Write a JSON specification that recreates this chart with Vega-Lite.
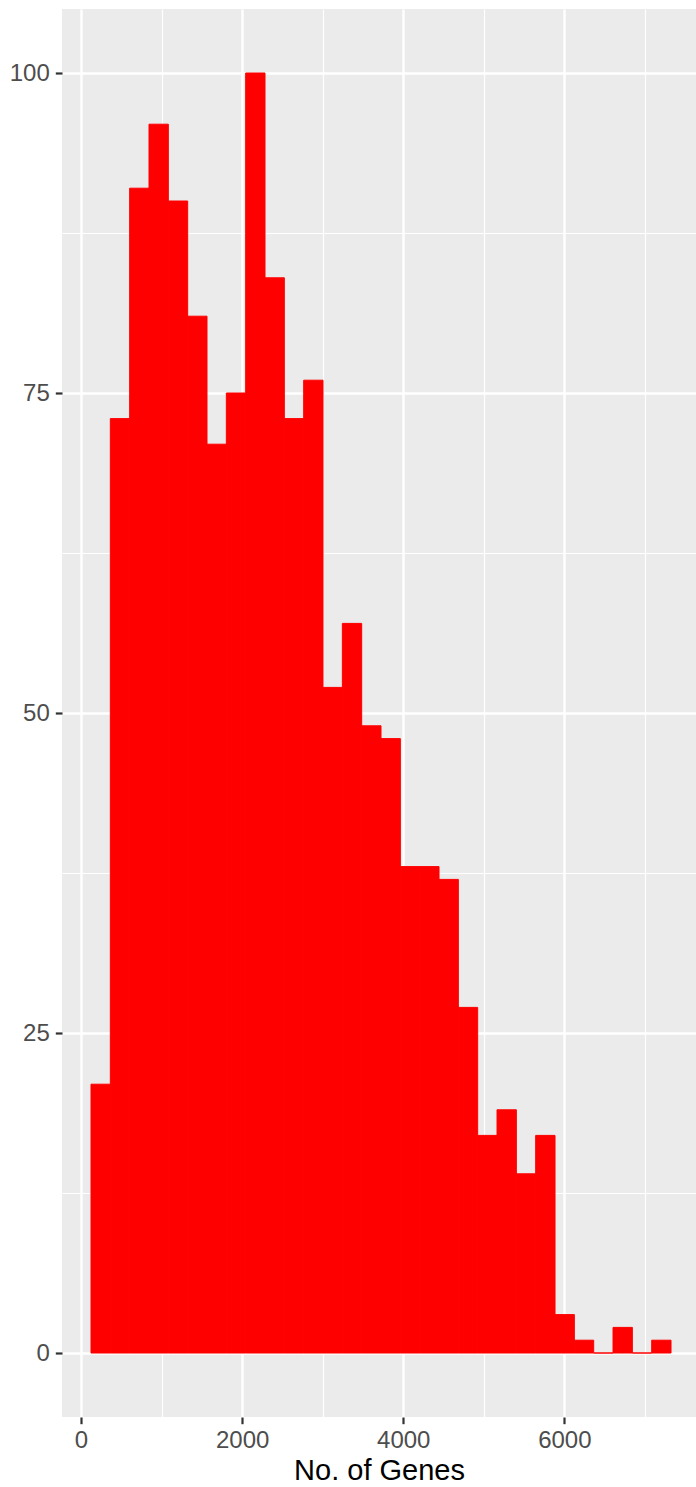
{
  "$schema": "https://vega.github.io/schema/vega-lite/v6.json",
  "width": 634,
  "height": 1408,
  "autosize": {"type": "none"},
  "padding": {"left": 62, "top": 9, "right": 0, "bottom": 70},
  "background": "white",
  "config": {
    "view": {"fill": "#EBEBEB", "stroke": null},
    "font": "Liberation Sans"
  },
  "data": {
    "values": [
      {"bin_start": 124, "bin_end": 364, "count": 21},
      {"bin_start": 364, "bin_end": 604, "count": 73},
      {"bin_start": 604, "bin_end": 844, "count": 91},
      {"bin_start": 844, "bin_end": 1084, "count": 96},
      {"bin_start": 1084, "bin_end": 1324, "count": 90},
      {"bin_start": 1324, "bin_end": 1564, "count": 81},
      {"bin_start": 1564, "bin_end": 1804, "count": 71},
      {"bin_start": 1804, "bin_end": 2044, "count": 75},
      {"bin_start": 2044, "bin_end": 2284, "count": 100},
      {"bin_start": 2284, "bin_end": 2524, "count": 84},
      {"bin_start": 2524, "bin_end": 2764, "count": 73},
      {"bin_start": 2764, "bin_end": 3004, "count": 76},
      {"bin_start": 3004, "bin_end": 3244, "count": 52},
      {"bin_start": 3244, "bin_end": 3484, "count": 57},
      {"bin_start": 3484, "bin_end": 3724, "count": 49},
      {"bin_start": 3724, "bin_end": 3964, "count": 48},
      {"bin_start": 3964, "bin_end": 4204, "count": 38},
      {"bin_start": 4204, "bin_end": 4444, "count": 38},
      {"bin_start": 4444, "bin_end": 4684, "count": 37},
      {"bin_start": 4684, "bin_end": 4924, "count": 27},
      {"bin_start": 4924, "bin_end": 5164, "count": 17},
      {"bin_start": 5164, "bin_end": 5404, "count": 19},
      {"bin_start": 5404, "bin_end": 5644, "count": 14},
      {"bin_start": 5644, "bin_end": 5884, "count": 17},
      {"bin_start": 5884, "bin_end": 6124, "count": 3},
      {"bin_start": 6124, "bin_end": 6364, "count": 1},
      {"bin_start": 6364, "bin_end": 6604, "count": 0},
      {"bin_start": 6604, "bin_end": 6844, "count": 2},
      {"bin_start": 6844, "bin_end": 7084, "count": 0},
      {"bin_start": 7084, "bin_end": 7324, "count": 1}
    ]
  },
  "layer": [
    {
      "mark": {"type": "bar", "opacity": 0},
      "encoding": {
        "x": {
          "field": "bin_start", "type": "quantitative",
          "scale": {"domain": [-236, 7634], "nice": false, "zero": false},
          "axis": {"orient": "bottom", "values": [1000, 3000, 5000, 7000], "grid": true, "gridColor": "#FFFFFF", "gridWidth": 1.2, "labels": false, "ticks": false, "domain": false, "title": null}
        },
        "x2": {"field": "bin_end"},
        "y": {
          "field": "count", "type": "quantitative",
          "scale": {"domain": [-5, 105], "nice": false, "zero": false},
          "axis": {"orient": "left", "values": [12.5, 37.5, 62.5, 87.5], "grid": true, "gridColor": "#FFFFFF", "gridWidth": 1.2, "labels": false, "ticks": false, "domain": false, "title": null}
        },
        "y2": {"datum": 0}
      }
    },
    {
      "mark": {"type": "bar", "fill": "#FF0000", "stroke": "#FF0000", "strokeWidth": 1},
      "encoding": {
        "x": {
          "field": "bin_start", "type": "quantitative",
          "scale": {"domain": [-236, 7634], "nice": false, "zero": false},
          "axis": {"orient": "bottom", "values": [0, 2000, 4000, 6000], "format": "d", "grid": true, "gridColor": "#FFFFFF", "gridWidth": 2.4, "domain": false, "ticks": true, "tickColor": "#333333", "tickWidth": 2.2, "tickSize": 6.7, "labelFontSize": 24, "labelColor": "#4D4D4D", "labelPadding": 4.6, "labelFont": "Liberation Sans", "title": "No. of Genes", "titleFontSize": 29, "titleFontWeight": "normal", "titleColor": "#000000", "titleFont": "Liberation Sans", "titlePadding": 4}
        },
        "x2": {"field": "bin_end"},
        "y": {
          "field": "count", "type": "quantitative",
          "scale": {"domain": [-5, 105], "nice": false, "zero": false},
          "axis": {"orient": "left", "values": [0, 25, 50, 75, 100], "format": "d", "grid": true, "gridColor": "#FFFFFF", "gridWidth": 2.4, "domain": false, "ticks": true, "tickColor": "#333333", "tickWidth": 2.2, "tickSize": 6.7, "labelFontSize": 24, "labelColor": "#4D4D4D", "labelPadding": 6, "labelFont": "Liberation Sans", "title": null}
        },
        "y2": {"datum": 0}
      }
    }
  ],
  "resolve": {"axis": {"x": "independent", "y": "independent"}}
}
